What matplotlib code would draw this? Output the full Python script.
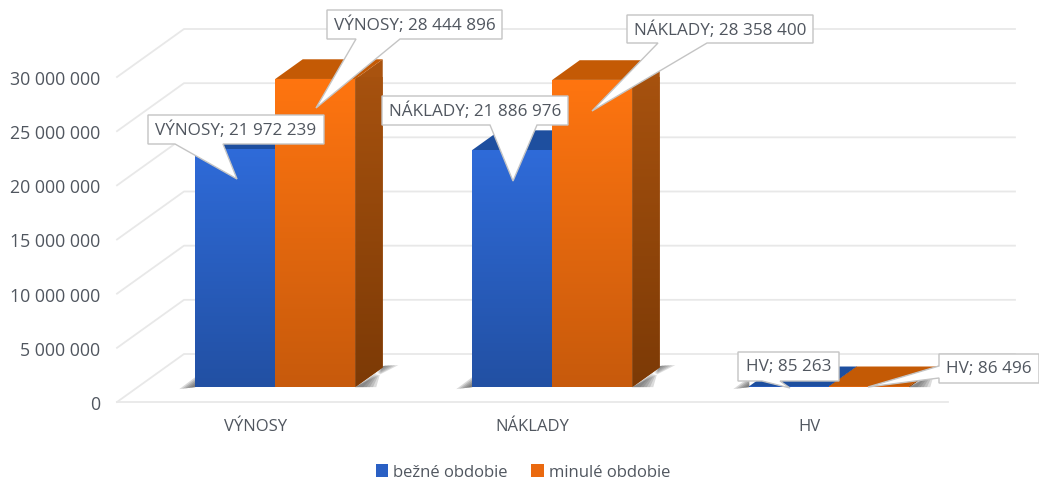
# -*- coding: utf-8 -*-
# 3D-looking clustered bars with callout labels, drawn on plain 2D axes.
import numpy as np
import matplotlib
matplotlib.use("Agg")
import matplotlib.pyplot as plt
from matplotlib.colors import LinearSegmentedColormap
from matplotlib.patches import Patch, Polygon
from matplotlib.ticker import FuncFormatter
from matplotlib.transforms import Affine2D

categories = ["VÝNOSY", "NÁKLADY", "HV"]
bezne_obdobie = [21972239, 21886976, 85263]
minule_obdobie = [28444896, 28358400, 86496]
series_names = ["bežné obdobie", "minulé obdobie"]
y_ticks = [0, 5000000, 10000000, 15000000, 20000000, 25000000, 30000000]

# figure size and plot frame, in pixels
W, H = 1039, 481
LEFT, RIGHT, BASE, TOP = 117, 948, 403, 78

TEXT = "#50565f"
plt.rcParams["font.family"] = ["Open Sans", "DejaVu Sans"]


def fmt(v):
    return f"{int(v):,}".replace(",", " ")


fig = plt.figure(figsize=(W / 100, H / 100), dpi=100, facecolor="white")
ax = fig.add_axes([LEFT / W, (H - BASE) / H, (RIGHT - LEFT) / W, (BASE - TOP) / H])
ax.set_facecolor("none")

# one data unit per pixel, both directions
px_x = 3 / (RIGHT - LEFT)
px_y = 30000000 / (BASE - TOP)
depth_x = 67 * px_x
depth_y = 48 * px_y
bar_w = 80 * px_x
d_front, d_back = 0.31, 0.72
nudge = -1 * px_x


def proj(x, y, d):
    # oblique projection: d=0 front of the floor, d=1 back wall
    return (x + d * depth_x, y + d * depth_y)


def gradient(patch, top, bottom, zorder):
    # vertical gradient clipped to the patch shape
    cmap = LinearSegmentedColormap.from_list("g", [bottom, top])
    verts = patch.get_patch_transform().transform(patch.get_path().vertices)
    im = ax.imshow(np.linspace(1, 0, 256).reshape(-1, 1), cmap=cmap, vmin=0, vmax=1,
                   aspect="auto", zorder=zorder, interpolation="bilinear",
                   extent=[verts[:, 0].min(), verts[:, 0].max(),
                           verts[:, 1].min(), verts[:, 1].max()])
    im.set_clip_path(patch)
    return im


xmin, xmax = -0.5, 2.5

# gridlines: front-left -> back-left -> back-right
for t in y_ticks:
    a = proj(xmin, t, 0)
    b = proj(xmin, t, 1)
    c = proj(xmax, t, 1)
    ax.plot([a[0], b[0], c[0]], [a[1], b[1], c[1]], color="#e8e8e8", lw=1.3,
            clip_on=False, zorder=1, solid_joinstyle="round")
# floor front edge
f0, f1 = proj(xmin, 0, 0), proj(xmax, 0, 0)
ax.plot([f0[0], f1[0]], [f0[1], f1[1]], color="#e8e8e8", lw=1.3, clip_on=False, zorder=1)

colors = [
    # front top, front bottom, side top, side bottom, top face
    ("#2f6bd9", "#2250a3", "#1b4a9c", "#163c7e", "#1e4f9f"),
    ("#ff7510", "#c75a0c", "#a9530f", "#7c3a06", "#c45a05"),
]
offsets = [-bar_w / 2, bar_w / 2]

for x0 in range(len(categories)):
    left = proj(x0 - bar_w + nudge, 0, d_front)
    right = proj(x0 + bar_w + nudge, 0, d_front)
    # soft shadow on the floor, left and right of the bar pair
    for k in range(5):
        g = 1 - k * 0.18
        ax.add_patch(Polygon(
            [(left[0] - 16 * g * px_x, left[1] - 2 * g * px_y), (left[0], left[1]),
             (left[0], left[1] + 10 * g * px_y)],
            closed=True, fc="#404040", ec="none", alpha=0.2, clip_on=False, zorder=2))
        ax.add_patch(Polygon(
            [(right[0], right[1]),
             (right[0] + (27 + 16 * g) * px_x, right[1] + 22 * px_y),
             (right[0] + 27 * px_x, right[1] + 21 * px_y),
             (right[0] + (3 + 18 * g) * px_x, right[1])],
            closed=True, fc="#505050", ec="none", alpha=0.2, clip_on=False, zorder=2))

legend_handles = []
for s, values in enumerate([bezne_obdobie, minule_obdobie]):
    c_top, c_bot, side_top, side_bot, top_face = colors[s]
    z = 3 + s * 3
    xs = np.arange(len(categories)) + offsets[s] + nudge
    fx, base = proj(xs, np.zeros(len(xs)), d_front)
    bars = ax.bar(fx, values, width=bar_w, bottom=base, color=c_top, linewidth=0,
                  clip_on=False, zorder=z + 1)
    for i, (bar, v) in enumerate(zip(bars, values)):
        x_l, x_r = fx[i] - bar_w / 2, fx[i] + bar_w / 2
        y0, y1 = base[i], base[i] + v
        dd = d_back - d_front
        # side face
        side = Polygon([(x_r, y0), (x_r + dd * depth_x, y0 + dd * depth_y),
                        (x_r + dd * depth_x, y1 + dd * depth_y), (x_r, y1)],
                       closed=True, fc=side_top, ec="none", clip_on=False, zorder=z)
        ax.add_patch(side)
        gradient(side, side_top, side_bot, z)
        # top face
        ax.add_patch(Polygon([(x_l, y1), (x_r, y1), (x_r + dd * depth_x, y1 + dd * depth_y),
                              (x_l + dd * depth_x, y1 + dd * depth_y)],
                             closed=True, fc=top_face, ec="none", clip_on=False, zorder=z))
        # front face
        gradient(bar, c_top, c_bot, z + 1)
    legend_handles.append(Patch(facecolor=("#2a60c4" if s == 0 else "#ea690f"), edgecolor="none",
                                label=series_names[s]))

ax.set_xlim(xmin, xmax)
ax.set_ylim(0, 30000000)
for sp in ax.spines.values():
    sp.set_visible(False)
ax.set_xticks(range(len(categories)), categories)
ax.set_yticks(y_ticks)
ax.yaxis.set_major_formatter(FuncFormatter(lambda v, _: fmt(v)))
ax.tick_params(axis="x", length=0, pad=11.5, labelsize=12, labelcolor=TEXT)
ax.tick_params(axis="y", length=0, pad=12, labelsize=12.8, labelcolor=TEXT)

# callouts, positioned in image pixels
pixels = Affine2D().scale(1 / W, -1 / H).translate(0, 1) + fig.transFigure

callout_boxes = [
    # x0, x1, y0, y1, pointer base a, pointer base b, tip, side
    (148, 324, 116, 145, 175, 223, (237, 180), "bottom"),
    (382, 568, 97, 126, 490, 537, (513, 182), "bottom"),
    (738, 839, 353, 382, 762, 780, (790, 389), "bottom"),
    (327, 502, 11, 40, 356, 400, (316, 109), "bottom"),
    (627, 813, 16, 44, 658, 707, (592, 112), "bottom"),
    (939, 1039, 355, 384, 367, 379, (868, 388), "left"),
]
callout_values = [(categories[i], series[i])
                  for series in (bezne_obdobie, minule_obdobie) for i in range(3)]

for k, (box, (cat, val)) in enumerate(zip(callout_boxes, callout_values)):
    x0, x1, y0, y1, a, b, tip, side = box
    if side == "bottom":
        pts = [(x0, y0), (x1, y0), (x1, y1), (b, y1), tip, (a, y1), (x0, y1)]
    else:
        pts = [(x0, y0), (x1, y0), (x1, y1), (x0, y1), (x0, b), tip, (x0, a)]
    fig.add_artist(Polygon(pts, closed=True, fc="white", ec="#c4c4c4", lw=1.0,
                           transform=pixels, zorder=10 + k, joinstyle="miter"))
    fig.text((x0 + x1) / 2 / W, 1 - ((y0 + y1) / 2) / H, f"{cat}; {fmt(val)}",
             ha="center", va="center", fontsize=12.3, color=TEXT, zorder=10.5 + k)

fig.legend(handles=legend_handles, loc="center", bbox_to_anchor=(523 / W, 1 - 473 / H),
           ncol=2, frameon=False, fontsize=12, labelcolor=TEXT, handlelength=0.75,
           handleheight=0.8, handletextpad=0.3, columnspacing=1.4)

fig.savefig("out.png", dpi=100)
plt.close(fig)
